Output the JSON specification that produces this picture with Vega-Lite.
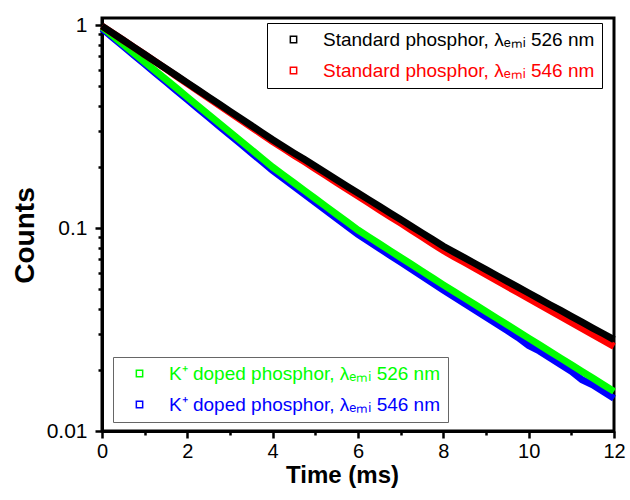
{
  "$schema": "https://vega.github.io/schema/vega-lite/v6.json",
  "autosize": "none",
  "width": 512,
  "height": 413,
  "padding": {"left": 102, "top": 18, "right": 16, "bottom": 69},
  "background": "white",
  "config": {
    "font": "Liberation Sans",
    "view": {"stroke": "#000", "strokeWidth": 3},
    "axis": {"grid": false, "labelColor": "#000", "labelOverlap": false, "labelFlush": false, "titleColor": "#000", "tickColor": "#000", "tickWidth": 2.5, "domainColor": "#000", "domainWidth": 3},
    "legend": {"labelFont": "Liberation Sans", "labelFontSize": 19, "labelLimit": 500, "symbolType": "square", "symbolSize": 40, "padding": 7, "rowPadding": 11, "symbolOffset": 10, "labelOffset": 20, "fillColor": "white", "strokeWidth": 1}
  },
  "resolve": {"axis": {"x": "independent", "y": "independent"}},
  "datasets": {
    "decay": [
      {"t":0,"c":0.9594,"s":"K546"},{"t":0.25,"c":0.8676,"s":"K546"},{"t":0.5,"c":0.7846,"s":"K546"},{"t":0.75,"c":0.7096,"s":"K546"},{"t":1,"c":0.6417,"s":"K546"},{"t":1.25,"c":0.5803,"s":"K546"},{"t":1.5,"c":0.5248,"s":"K546"},{"t":1.75,"c":0.4746,"s":"K546"},{"t":2,"c":0.4291,"s":"K546"},{"t":2.25,"c":0.3881,"s":"K546"},{"t":2.5,"c":0.3510,"s":"K546"},{"t":2.75,"c":0.3174,"s":"K546"},{"t":3,"c":0.2870,"s":"K546"},{"t":3.25,"c":0.2596,"s":"K546"},{"t":3.5,"c":0.2347,"s":"K546"},{"t":3.75,"c":0.2123,"s":"K546"},{"t":4,"c":0.1920,"s":"K546"},{"t":4.25,"c":0.1754,"s":"K546"},{"t":4.5,"c":0.1602,"s":"K546"},{"t":4.75,"c":0.1463,"s":"K546"},{"t":5,"c":0.1337,"s":"K546"},{"t":5.25,"c":0.1221,"s":"K546"},{"t":5.5,"c":0.1115,"s":"K546"},{"t":5.75,"c":0.1019,"s":"K546"},{"t":6,"c":0.09307,"s":"K546"},{"t":6.25,"c":0.08600,"s":"K546"},{"t":6.5,"c":0.07947,"s":"K546"},{"t":6.75,"c":0.07344,"s":"K546"},{"t":7,"c":0.06786,"s":"K546"},{"t":7.25,"c":0.06271,"s":"K546"},{"t":7.5,"c":0.05795,"s":"K546"},{"t":7.75,"c":0.05355,"s":"K546"},{"t":8,"c":0.04949,"s":"K546"},{"t":8.25,"c":0.04583,"s":"K546"},{"t":8.5,"c":0.04244,"s":"K546"},{"t":8.75,"c":0.03930,"s":"K546"},{"t":9,"c":0.03639,"s":"K546"},{"t":9.25,"c":0.03371,"s":"K546"},{"t":9.5,"c":0.03121,"s":"K546"},{"t":9.75,"c":0.02890,"s":"K546"},{"t":10,"c":0.02640,"s":"K546"},{"t":10.25,"c":0.02478,"s":"K546"},{"t":10.5,"c":0.02296,"s":"K546"},{"t":10.75,"c":0.02125,"s":"K546"},{"t":11,"c":0.01968,"s":"K546"},{"t":11.25,"c":0.01790,"s":"K546"},{"t":11.5,"c":0.01688,"s":"K546"},{"t":11.75,"c":0.01563,"s":"K546"},{"t":12,"c":0.01448,"s":"K546"},
      {"t":0,"c":0.9772,"s":"K526"},{"t":0.25,"c":0.8849,"s":"K526"},{"t":0.5,"c":0.8012,"s":"K526"},{"t":0.75,"c":0.7255,"s":"K526"},{"t":1,"c":0.6569,"s":"K526"},{"t":1.25,"c":0.5948,"s":"K526"},{"t":1.5,"c":0.5386,"s":"K526"},{"t":1.75,"c":0.4877,"s":"K526"},{"t":2,"c":0.4416,"s":"K526"},{"t":2.25,"c":0.3998,"s":"K526"},{"t":2.5,"c":0.3620,"s":"K526"},{"t":2.75,"c":0.3278,"s":"K526"},{"t":3,"c":0.2968,"s":"K526"},{"t":3.25,"c":0.2688,"s":"K526"},{"t":3.5,"c":0.2434,"s":"K526"},{"t":3.75,"c":0.2204,"s":"K526"},{"t":4,"c":0.1995,"s":"K526"},{"t":4.25,"c":0.1825,"s":"K526"},{"t":4.5,"c":0.1669,"s":"K526"},{"t":4.75,"c":0.1527,"s":"K526"},{"t":5,"c":0.1396,"s":"K526"},{"t":5.25,"c":0.1277,"s":"K526"},{"t":5.5,"c":0.1168,"s":"K526"},{"t":5.75,"c":0.1069,"s":"K526"},{"t":6,"c":0.09773,"s":"K526"},{"t":6.25,"c":0.09042,"s":"K526"},{"t":6.5,"c":0.08366,"s":"K526"},{"t":6.75,"c":0.07741,"s":"K526"},{"t":7,"c":0.07162,"s":"K526"},{"t":7.25,"c":0.06627,"s":"K526"},{"t":7.5,"c":0.06131,"s":"K526"},{"t":7.75,"c":0.05673,"s":"K526"},{"t":8,"c":0.05249,"s":"K526"},{"t":8.25,"c":0.04867,"s":"K526"},{"t":8.5,"c":0.04513,"s":"K526"},{"t":8.75,"c":0.04184,"s":"K526"},{"t":9,"c":0.03880,"s":"K526"},{"t":9.25,"c":0.03598,"s":"K526"},{"t":9.5,"c":0.03336,"s":"K526"},{"t":9.75,"c":0.03093,"s":"K526"},{"t":10,"c":0.02868,"s":"K526"},{"t":10.25,"c":0.02659,"s":"K526"},{"t":10.5,"c":0.02466,"s":"K526"},{"t":10.75,"c":0.02286,"s":"K526"},{"t":11,"c":0.02120,"s":"K526"},{"t":11.25,"c":0.01966,"s":"K526"},{"t":11.5,"c":0.01823,"s":"K526"},{"t":11.75,"c":0.01690,"s":"K526"},{"t":12,"c":0.01567,"s":"K526"},
      {"t":0,"c":0.9886,"s":"S546"},{"t":0.25,"c":0.9120,"s":"S546"},{"t":0.5,"c":0.8414,"s":"S546"},{"t":0.75,"c":0.7762,"s":"S546"},{"t":1,"c":0.7161,"s":"S546"},{"t":1.25,"c":0.6596,"s":"S546"},{"t":1.5,"c":0.6074,"s":"S546"},{"t":1.75,"c":0.5594,"s":"S546"},{"t":2,"c":0.5152,"s":"S546"},{"t":2.25,"c":0.4745,"s":"S546"},{"t":2.5,"c":0.4370,"s":"S546"},{"t":2.75,"c":0.4025,"s":"S546"},{"t":3,"c":0.3706,"s":"S546"},{"t":3.25,"c":0.3414,"s":"S546"},{"t":3.5,"c":0.3144,"s":"S546"},{"t":3.75,"c":0.2895,"s":"S546"},{"t":4,"c":0.2667,"s":"S546"},{"t":4.25,"c":0.2467,"s":"S546"},{"t":4.5,"c":0.2283,"s":"S546"},{"t":4.75,"c":0.2117,"s":"S546"},{"t":5,"c":0.1959,"s":"S546"},{"t":5.25,"c":0.1812,"s":"S546"},{"t":5.5,"c":0.1677,"s":"S546"},{"t":5.75,"c":0.1551,"s":"S546"},{"t":6,"c":0.1438,"s":"S546"},{"t":6.25,"c":0.1331,"s":"S546"},{"t":6.5,"c":0.1231,"s":"S546"},{"t":6.75,"c":0.1140,"s":"S546"},{"t":7,"c":0.1057,"s":"S546"},{"t":7.25,"c":0.09779,"s":"S546"},{"t":7.5,"c":0.09047,"s":"S546"},{"t":7.75,"c":0.08370,"s":"S546"},{"t":8,"c":0.07744,"s":"S546"},{"t":8.25,"c":0.07232,"s":"S546"},{"t":8.5,"c":0.06768,"s":"S546"},{"t":8.75,"c":0.06320,"s":"S546"},{"t":9,"c":0.05903,"s":"S546"},{"t":9.25,"c":0.05511,"s":"S546"},{"t":9.5,"c":0.05147,"s":"S546"},{"t":9.75,"c":0.04817,"s":"S546"},{"t":10,"c":0.04498,"s":"S546"},{"t":10.25,"c":0.04200,"s":"S546"},{"t":10.5,"c":0.03922,"s":"S546"},{"t":10.75,"c":0.03670,"s":"S546"},{"t":11,"c":0.03428,"s":"S546"},{"t":11.25,"c":0.03201,"s":"S546"},{"t":11.5,"c":0.02989,"s":"S546"},{"t":11.75,"c":0.02797,"s":"S546"},{"t":12,"c":0.02612,"s":"S546"},
      {"t":0,"c":0.9886,"s":"S526"},{"t":0.25,"c":0.9120,"s":"S526"},{"t":0.5,"c":0.8414,"s":"S526"},{"t":0.75,"c":0.7762,"s":"S526"},{"t":1,"c":0.7161,"s":"S526"},{"t":1.25,"c":0.6607,"s":"S526"},{"t":1.5,"c":0.6095,"s":"S526"},{"t":1.75,"c":0.5623,"s":"S526"},{"t":2,"c":0.5188,"s":"S526"},{"t":2.25,"c":0.4786,"s":"S526"},{"t":2.5,"c":0.4416,"s":"S526"},{"t":2.75,"c":0.4074,"s":"S526"},{"t":3,"c":0.3758,"s":"S526"},{"t":3.25,"c":0.3467,"s":"S526"},{"t":3.5,"c":0.3199,"s":"S526"},{"t":3.75,"c":0.2951,"s":"S526"},{"t":4,"c":0.2723,"s":"S526"},{"t":4.25,"c":0.2523,"s":"S526"},{"t":4.5,"c":0.2339,"s":"S526"},{"t":4.75,"c":0.2173,"s":"S526"},{"t":5,"c":0.2014,"s":"S526"},{"t":5.25,"c":0.1866,"s":"S526"},{"t":5.5,"c":0.1730,"s":"S526"},{"t":5.75,"c":0.1603,"s":"S526"},{"t":6,"c":0.1489,"s":"S526"},{"t":6.25,"c":0.1380,"s":"S526"},{"t":6.5,"c":0.1279,"s":"S526"},{"t":6.75,"c":0.1186,"s":"S526"},{"t":7,"c":0.1102,"s":"S526"},{"t":7.25,"c":0.1021,"s":"S526"},{"t":7.5,"c":0.09462,"s":"S526"},{"t":7.75,"c":0.08770,"s":"S526"},{"t":8,"c":0.08128,"s":"S526"},{"t":8.25,"c":0.07603,"s":"S526"},{"t":8.5,"c":0.07128,"s":"S526"},{"t":8.75,"c":0.06668,"s":"S526"},{"t":9,"c":0.06238,"s":"S526"},{"t":9.25,"c":0.05834,"s":"S526"},{"t":9.5,"c":0.05458,"s":"S526"},{"t":9.75,"c":0.05117,"s":"S526"},{"t":10,"c":0.04786,"s":"S526"},{"t":10.25,"c":0.04477,"s":"S526"},{"t":10.5,"c":0.04188,"s":"S526"},{"t":10.75,"c":0.03926,"s":"S526"},{"t":11,"c":0.03673,"s":"S526"},{"t":11.25,"c":0.03436,"s":"S526"},{"t":11.5,"c":0.03214,"s":"S526"},{"t":11.75,"c":0.03013,"s":"S526"},{"t":12,"c":0.02818,"s":"S526"}
    ]
  },
  "layer": [
    {
      "data": {"name": "decay"},
      "transform": [{"filter": "datum.s == 'K546'"}],
      "mark": {"type": "line", "strokeWidth": 7},
      "encoding": {
        "x": {"field": "t", "type": "quantitative", "scale": {"domain": [0, 12], "nice": false, "zero": false},
          "axis": {"orient": "bottom", "values": [1,3,5,7,9,11], "labels": false, "domain": false, "title": null, "tickSize": 4}},
        "y": {"field": "c", "type": "quantitative", "scale": {"type": "log", "domain": [0.01, 1.083], "nice": false},
          "axis": {"orient": "left", "values": [0.02,0.03,0.04,0.05,0.06,0.07,0.08,0.09,0.2,0.3,0.4,0.5,0.6,0.7,0.8,0.9], "labels": false, "domain": false, "title": null, "tickSize": 4}},
        "stroke": {"field": "s", "type": "nominal", "scale": {"domain": ["K526", "K546"], "range": ["#00ff00", "#0000ff"]},
          "legend": {"title": null, "orient": "none", "legendX": 11, "legendY": 339, "strokeColor": "#666",
            "labelExpr": "datum.value == 'K526' ? 'K⁺ doped phosphor, λₑₘᵢ 526 nm' : 'K⁺ doped phosphor, λₑₘᵢ 546 nm'",
            "encode": {"labels": {"update": {"fill": {"scale": "stroke", "field": "value"}}}}}}
      }
    },
    {
      "data": {"name": "decay"},
      "transform": [{"filter": "datum.s == 'K526'"}],
      "mark": {"type": "line", "strokeWidth": 7},
      "encoding": {
        "x": {"field": "t", "type": "quantitative",
          "axis": {"orient": "bottom", "values": [0,2,4,6,8,10,12], "tickSize": 7,
            "labelFontSize": 20, "labelPadding": 3,
            "title": "Time (ms)", "titleFontSize": 24, "titleFontWeight": "bold",
            "titleX": 240, "titleY": 51, "titleBaseline": "alphabetic", "titleAlign": "center"}},
        "y": {"field": "c", "type": "quantitative",
          "axis": {"orient": "left", "values": [0.01, 0.1, 1], "tickSize": 7,
            "labelFontSize": 21, "labelPadding": 8,
            "title": "Counts", "titleFontSize": 28, "titleFontWeight": "bold",
            "titleX": -69, "titleY": 217, "titleBaseline": "alphabetic", "titleAlign": "center", "titleAngle": -90}},
        "stroke": {"field": "s", "type": "nominal"}
      }
    },
    {
      "data": {"name": "decay"},
      "transform": [{"filter": "datum.s == 'S546'"}],
      "mark": {"type": "line", "strokeWidth": 7},
      "encoding": {
        "x": {"field": "t", "type": "quantitative", "axis": null},
        "y": {"field": "c", "type": "quantitative", "axis": null},
        "color": {"field": "s", "type": "nominal", "scale": {"domain": ["S526", "S546"], "range": ["#000000", "#ff0000"]},
          "legend": {"title": null, "orient": "none", "legendX": 165, "legendY": 5, "strokeColor": "#000",
            "labelExpr": "datum.value == 'S526' ? 'Standard phosphor, λₑₘᵢ 526 nm' : 'Standard phosphor, λₑₘᵢ 546 nm'",
            "encode": {"labels": {"update": {"fill": {"scale": "color", "field": "value"}}}}}}
      }
    },
    {
      "data": {"name": "decay"},
      "transform": [{"filter": "datum.s == 'S526'"}],
      "mark": {"type": "line", "strokeWidth": 7},
      "encoding": {
        "x": {"field": "t", "type": "quantitative", "axis": null},
        "y": {"field": "c", "type": "quantitative", "axis": null},
        "color": {"field": "s", "type": "nominal"}
      }
    }
  ]
}
